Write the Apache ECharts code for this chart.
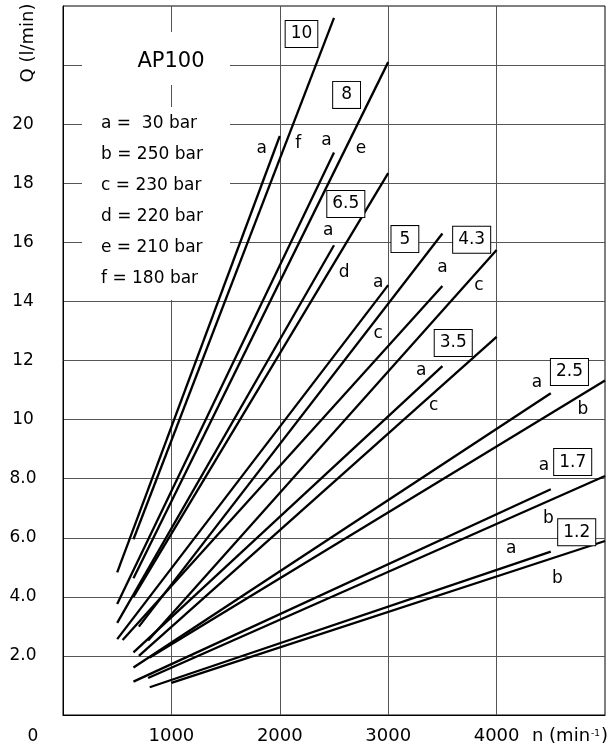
<!DOCTYPE html>
<html><head><meta charset="utf-8">
<script src="https://cdn.jsdelivr.net/npm/echarts@6/dist/echarts.min.js"></script>
<style>html,body{margin:0;padding:0;background:#fff}#c{width:609px;height:748px}</style>
</head><body><div id="c"></div>
<script>
// Axis ticks
const nTicks = [1000, 2000, 3000, 4000];
const qTicks = [2, 4, 6, 8, 10, 12, 14, 16, 18, 20];

// Curves: [n (min-1), Q (l/min)] start and end points
const c10a  = [[500, 4.83], [2000, 19.6]];
const c10f  = [[650, 5.95], [2500, 23.6]];
const c8a   = [[500, 3.76], [2500, 19.04]];
const c8e   = [[650, 4.63], [3000, 22.1]];
const c65a  = [[500, 3.12], [2500, 15.9]];
const c65d  = [[650, 4.0],  [3000, 18.34]];
const c5a   = [[500, 2.57], [3000, 14.55]];
const c5c   = [[700, 2.99], [3500, 16.3]];
const c43a  = [[550, 2.54], [3500, 14.52]];
const c43c  = [[785, 2.52], [4000, 15.74]];
const c35a  = [[650, 2.12], [3500, 11.81]];
const c35c  = [[700, 2.0],  [4000, 12.8]];
const c25a  = [[650, 1.61], [4500, 10.89]];
const c25b  = [[800, 1.95], [5000, 11.32]];
const c17a  = [[650, 1.13], [4500, 7.64]];
const c17b  = [[785, 1.25], [5000, 8.09]];
const c12a  = [[800, 0.94], [4500, 5.53]];
const c12b  = [[1000, 1.09], [5000, 5.89]];
const curves = [c10a, c10f, c8a, c8e, c65a, c65d, c5a, c5c, c43a, c43c, c35a, c35c, c25a, c25b, c17a, c17b, c12a, c12b];

// Boxed displacement labels
const boxTexts = ['10', '8', '6.5', '5', '4.3', '3.5', '2.5', '1.7', '1.2'];
const boxN = [2200, 2616, 2609, 3154, 3770, 3600, 4672, 4702, 4739];
const boxQ = [23.05, 20.99, 17.30, 16.11, 16.09, 12.59, 11.61, 8.56, 6.19];

// Pressure letter labels
const letTexts = ['a', 'f', 'a', 'e', 'a', 'd', 'a', 'c', 'a', 'c', 'a', 'c', 'a', 'b', 'a', 'b', 'a', 'b'];
const letN = [1834, 2171, 2431, 2748, 2446, 2593, 2908, 2908, 3500, 3837, 3304, 3420, 4372, 4797, 4437, 4477, 4135, 4561];
const letQ = [19.19, 19.33, 19.43, 19.16, 16.39, 14.98, 14.64, 12.91, 15.15, 14.52, 11.65, 10.47, 11.24, 10.34, 8.43, 6.64, 5.62, 4.63];

// Legend text
const title = 'AP100';
const legendLines = ['a =  30 bar', 'b = 250 bar', 'c = 230 bar', 'd = 220 bar', 'e = 210 bar', 'f = 180 bar'];

const FONT = 'DejaVu Sans';
const chart = echarts.init(document.getElementById('c'), null, {renderer: 'canvas'});

const series = curves.map(c => ({
  type: 'line', data: c, symbol: 'none', silent: true, z: 2,
  lineStyle: {color: '#000', width: 2.3}
}));

const labelBase = {show: true, position: 'inside', color: '#000', opacity: 1,
  textBorderWidth: 0, textBorderColor: 'transparent', fontFamily: FONT, fontSize: 17};

series.push({
  type: 'scatter', symbolSize: 0, silent: true, z: 4, itemStyle: {opacity: 1},
  data: boxTexts.map((t, i) => ({
    value: [boxN[i], boxQ[i]],
    label: {formatter: t, padding: t.length === 1 ? [3, 8, 3, 8] : [3, 5, 3, 5]}
  })),
  label: Object.assign({}, labelBase, {backgroundColor: '#fff', borderColor: '#000', borderWidth: 1, lineHeight: 20})
});
series.push({
  type: 'scatter', symbolSize: 0, silent: true, z: 4, itemStyle: {opacity: 1},
  data: letTexts.map((t, i) => ({value: [letN[i], letQ[i]], label: {formatter: t}})),
  label: labelBase
});

const graphic = [
  {type: 'rect', z: 1, shape: {x: 82, y: 32, width: 148, height: 53}, style: {fill: '#fff'}},
  {type: 'rect', z: 1, shape: {x: 82, y: 107, width: 148, height: 193}, style: {fill: '#fff'}},
  {type: 'text', z: 5, x: 171, y: 62, style: {text: title, font: '21px "DejaVu Sans"', fill: '#000', textAlign: 'center', textVerticalAlign: 'middle'}},
  {type: 'text', z: 5, x: 28, y: 43, rotation: Math.PI / 2, style: {text: 'Q (l/min)', font: '18px "DejaVu Sans"', fill: '#000', textAlign: 'center', textVerticalAlign: 'middle'}},
  {type: 'text', z: 5, x: 33, y: 737, style: {text: '0', font: '17px "DejaVu Sans"', fill: '#000', textAlign: 'center', textVerticalAlign: 'middle'}},
  {type: 'text', z: 5, x: 570, y: 736, style: {
    text: '{m|n (min}{s|-1}{m|)}', textAlign: 'center', textVerticalAlign: 'middle',
    rich: {m: {font: '18px "DejaVu Sans"', fill: '#000'}, s: {font: '9px "DejaVu Sans"', fill: '#000', padding: [0, 1, 4, 1]}}
  }}
];
legendLines.forEach((t, i) => {
  graphic.push({type: 'text', z: 5, x: 101, y: 123.3 + i * 31, style: {text: t, font: '17px "DejaVu Sans"', fill: '#000', textAlign: 'left', textVerticalAlign: 'middle'}});
});

chart.setOption({
  backgroundColor: '#fff',
  animation: false,
  grid: {left: 63, right: 4, top: 6, bottom: 33, show: true, borderColor: '#000', borderWidth: 1, backgroundColor: '#fff'},
  xAxis: {
    type: 'value', min: 0, max: 5000, interval: 1000,
    axisLine: {show: true, lineStyle: {color: '#000', width: 1}},
    axisTick: {show: false},
    splitLine: {show: true, showMinLine: false, showMaxLine: false, lineStyle: {color: '#555', width: 1}},
    axisLabel: {margin: 12, color: '#000', fontFamily: FONT, fontSize: 18,
      formatter: v => nTicks.includes(v) ? String(v) : ''}
  },
  yAxis: {
    type: 'value', min: 0, max: 24, interval: 2,
    axisLine: {show: true, lineStyle: {color: '#000', width: 1}},
    axisTick: {show: false},
    splitLine: {show: true, showMinLine: false, showMaxLine: false, lineStyle: {color: '#555', width: 1}},
    axisLabel: {margin: 40, align: 'center', color: '#000', fontFamily: FONT, fontSize: 17,
      formatter: v => qTicks.includes(v) ? (v < 10 ? v.toFixed(1) : String(v)) : ''}
  },
  graphic: graphic,
  series: series
});
</script></body></html>
